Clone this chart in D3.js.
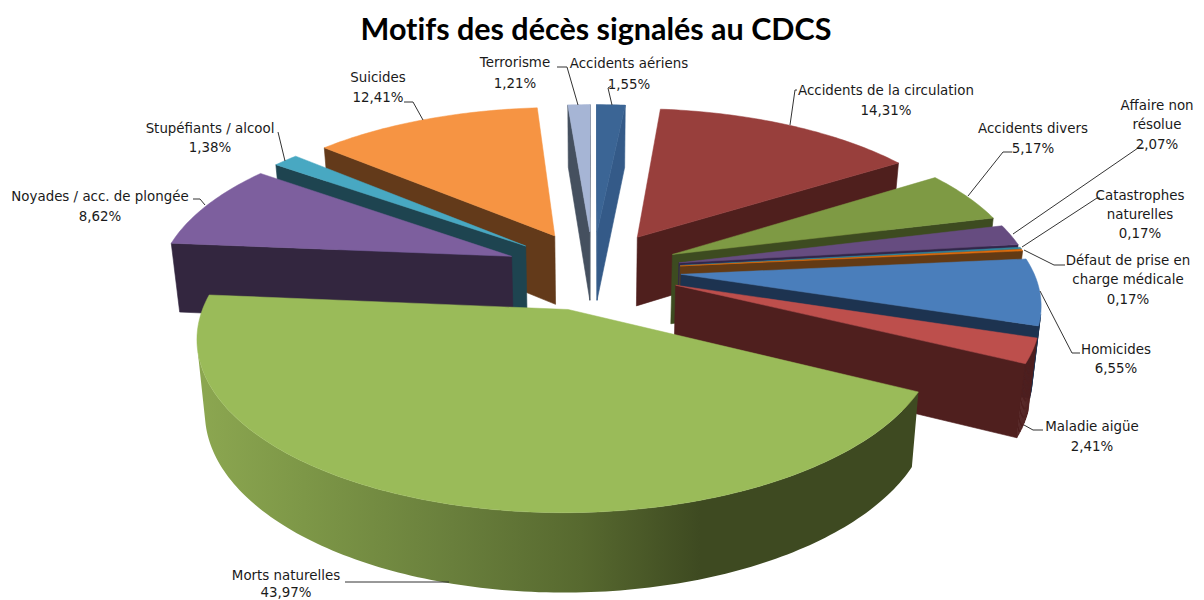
<!DOCTYPE html>
<html><head><meta charset="utf-8"><script src="https://cdn.jsdelivr.net/npm/d3@7"></script>
<style>html,body{margin:0;padding:0;background:#fff;overflow:hidden}svg{display:block}</style></head>
<body><svg id="c" width="1204" height="600"></svg>
<script>
const titleText = "Motifs des décès signalés au CDCS";
const categories = ["Accidents aériens","Accidents de la circulation","Accidents divers","Affaire non résolue","Catastrophes naturelles","Défaut de prise en charge médicale","Homicides","Maladie aigüe","Morts naturelles","Noyades / acc. de plongée","Stupéfiants / alcool","Suicides","Terrorisme"];
const values = [1.55,14.31,5.17,2.07,0.17,0.17,6.55,2.41,43.97,8.62,1.38,12.41,1.21];
const topColors = ["#3b6595","#983f3c","#7e9a44","#664c80","#31859c","#e46c0a","#4a7ebb","#bd4f4c","#9abb59","#7d5f9e","#48a8c2","#f69443","#a6b5d5"];
const sideColors = ["#345a88","#4f1f1d","#3d4b20","#32264a","#1d4f5c","#633a14","#1d3350","#4f1f1e","#3e4a21","#33263f","#1e4450","#633a1a","#45505f"];
const labelLines = [["Accidents aériens","1,55%"],["Accidents de la circulation","14,31%"],["Accidents divers","5,17%"],["Affaire non","résolue","2,07%"],["Catastrophes","naturelles","0,17%"],["Défaut de prise en","charge médicale","0,17%"],["Homicides","6,55%"],["Maladie aigüe","2,41%"],["Morts naturelles","43,97%"],["Noyades / acc. de plongée","8,62%"],["Stupéfiants / alcool","1,38%"],["Suicides","12,41%"],["Terrorisme","1,21%"]];
// label layout: centre x, first-line centre y, line step
const labelPos = [[629,63,21],[886,90,20],[1033,128,20],[1157,105,19.5],[1140,195,19],[1128,260,19.5],[1116,349,19.5],[1092,426,20],[286,575,17],[100,196,20],[210,128,19.5],[378,77,20],[515,62,21]];
const leaders = [[[612,105],[608,88],[611,86]],[[790,125],[795,90],[797,90]],[[968,196],[1003,152],[1012,152]],[[1013,234],[1138,148],[1144,148]],[[1022,247],[1097,198],[1100,198]],[[1024,250],[1054,265],[1065,265]],[[1040,291],[1072,353],[1080,353]],[[1024,425],[1033,430],[1043,430]],[[345,582],[449,582]],[[205,205],[200,199],[193,199]],[[285,161],[278,132]],[[423,120],[413,102],[404,102]],[[578,105],[567,67],[557,67]]];

const svg = d3.select("#c");
const cx = 593, cy = 270, A = 352, B = 158, k = 0.155, explode = 0.25, depth = 70, depthK = 0.1, bottomShrink = 0.98;
const sxScale = d3.scaleLinear().domain([-1,1]).range([cx-A, cx+A]);
const syScale = d3.scaleLinear().domain([-1,1]).range([cy-B, cy+B]);
const project = (X,Y,bottom) => {
  const w = 1 - k*Y;
  let sx = sxScale(X/w), sy = syScale(Y/w);
  if (bottom) { sx = cx + (sx-cx)*bottomShrink; sy += depth/(1-depthK*Y); }
  return [sx,sy];
};
const pie = d3.pie().sort(null).value(d=>d.value).startAngle(0).endAngle(2*Math.PI);
const slices = pie(categories.map((c,i)=>({name:c,value:values[i],i})));
const line = d3.line();
const morts = categories.indexOf("Morts naturelles");

const grad = svg.append("defs").append("linearGradient").attr("id","mortsSide").attr("gradientUnits","userSpaceOnUse")
  .attr("x1",205).attr("x2",700).attr("y1",0).attr("y2",0);
[[0,"#8ba650"],[0.2,"#7d9747"],[0.5,"#697f3c"],[0.76,"#57692f"],[1,"#3e4a21"]].forEach(([o,c])=>grad.append("stop").attr("offset",o).attr("stop-color",c));

slices.map(s=>{
  const mid=(s.startAngle+s.endAngle)/2;
  return {s,ox:explode*Math.sin(mid),oy:-explode*Math.cos(mid)};
}).sort((a,b)=>a.oy-b.oy).forEach(({s,ox,oy})=>{
  const i=s.data.i;
  const n=Math.max(1,Math.ceil((s.endAngle-s.startAngle)/(Math.PI/180)));
  const pts=[[ox,oy]];
  for(let j=0;j<=n;j++){
    const t=s.startAngle+(s.endAngle-s.startAngle)*j/n;
    pts.push([ox+Math.sin(t),oy-Math.cos(t)]);
  }
  const g=svg.append("g").attr("class","slice").attr("data-name",s.data.name);
  const m=pts.length;
  const bandTop=[],bandBot=[];
  for(let j=0;j<m;j++){
    const a=pts[j],b=pts[(j+1)%m];
    const quad=[project(a[0],a[1],false),project(b[0],b[1],false),project(b[0],b[1],true),project(a[0],a[1],true)];
    if(d3.polygonArea(quad)<=0) continue;
    const outer=j>=1&&j<m-1;
    if(i===morts&&outer){
      if(!bandTop.length){bandTop.push(quad[0]);bandBot.push(quad[3]);}
      bandTop.push(quad[1]);bandBot.push(quad[2]);
    } else {
      g.append("path").attr("d",line(quad)+"Z").attr("fill",sideColors[i]).attr("stroke",sideColors[i]).attr("stroke-width",0.6);
    }
  }
  if(bandTop.length){
    g.append("path").attr("d",line(bandTop.concat(bandBot.reverse()))+"Z").attr("fill","url(#mortsSide)");
  }
  g.append("path").attr("d",line(pts.map(p=>project(p[0],p[1],false)))+"Z").attr("fill",topColors[i]).attr("stroke",topColors[i]).attr("stroke-width",0.5);
});

svg.append("text").attr("x",596).attr("y",40).attr("text-anchor","middle")
  .style("font-family","Lato").style("font-weight",700).style("font-size","30.5px").style("font-variant-ligatures","none").attr("fill","#000").text(titleText);

const lg=svg.append("g").attr("fill","none").attr("stroke","#333").attr("stroke-width",1);
leaders.forEach(l=>lg.append("path").attr("d",line(l)));
const tg=svg.append("g").style("font-family","'DejaVu Sans'").style("font-size","13.4px").attr("fill","#1a1a1a").attr("text-anchor","middle");
labelLines.forEach((ls,i)=>{
  const [x,y,st]=labelPos[i];
  ls.forEach((t,j)=>tg.append("text").attr("x",x).attr("y",y+j*st).attr("dy","0.35em").text(t));
});
</script></body></html>
